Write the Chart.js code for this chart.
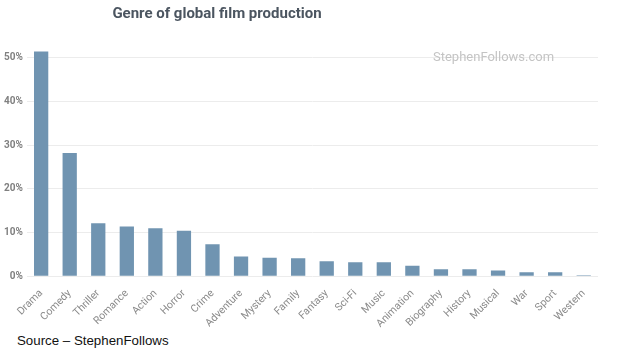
<!DOCTYPE html>
<html>
<head>
<meta charset="utf-8">
<script src="https://cdn.jsdelivr.net/npm/chart.js@4"></script>
<style>
  body { margin: 0; background: #fff; width: 617px; height: 354px; position: relative; overflow: hidden; }
  #title { position: absolute; left: 0; width: 434px; top: 4px; text-align: center;
           font: bold 15px Roboto, sans-serif; color: #4b5560; }
  #mark { position: absolute; left: 433px; top: 49px; font: 13px Roboto, sans-serif; color: #c4c4c4; }
  #source { position: absolute; left: 17px; top: 333px; font: 13.3px "Liberation Sans", Arial, sans-serif; color: #111; }
  #wrap { position: absolute; left: 0; top: 0; width: 617px; height: 333px; }
</style>
</head>
<body>
<div id="wrap"><canvas id="genreChart" width="617" height="333"></canvas></div>
<div id="title">Genre of global film production</div>
<div id="mark">StephenFollows.com</div>
<div id="source">Source – StephenFollows</div>
<script>
var genres = ['Drama', 'Comedy', 'Thriller', 'Romance', 'Action', 'Horror', 'Crime', 'Adventure',
    'Mystery', 'Family', 'Fantasy', 'Sci-Fi', 'Music', 'Animation', 'Biography', 'History',
    'Musical', 'War', 'Sport', 'Western'];
var shares = [51.4, 28.2, 12.1, 11.4, 11.0, 10.4, 7.3, 4.5, 4.2, 4.1, 3.4, 3.2, 3.2, 2.4, 1.6, 1.6, 1.3, 0.9, 0.9, 0.2];
var yTicks = [0, 10, 20, 30, 40, 50];

document.addEventListener('DOMContentLoaded', function() {
    var ctx = document.getElementById('genreChart').getContext('2d');

    var genreChart = new Chart(ctx, {
        type: 'bar',
        data: {
            labels: genres,
            datasets: [{
                label: 'Share of films',
                data: shares,
                backgroundColor: '#7094b1',
                barPercentage: 0.5,
                categoryPercentage: 1.0
            }]
        },
        options: {
            responsive: false,
            animation: false,
            layout: { padding: { top: 49, right: 19, left: 0, bottom: 0 } },
            plugins: {
                legend: { display: false },
                tooltip: { enabled: false }
            },
            scales: {
                x: {
                    grid: { display: false },
                    border: { display: false },
                    ticks: {
                        autoSkip: false,
                        minRotation: 45,
                        maxRotation: 45,
                        color: '#8a8a8a',
                        font: { family: 'Roboto', size: 10.5 }
                    }
                },
                y: {
                    min: 0,
                    max: 52,
                    afterBuildTicks: function(scale) {
                        scale.ticks = yTicks.map(function(v) { return { value: v }; });
                    },
                    grid: { color: '#ececec', drawTicks: false },
                    border: { display: false },
                    ticks: {
                        color: '#808080',
                        padding: 4,
                        font: { family: 'Roboto', size: 10, weight: 'bold' },
                        callback: function(v) { return v + '%'; }
                    }
                }
            }
        }
    });
});
</script>
</body>
</html>
